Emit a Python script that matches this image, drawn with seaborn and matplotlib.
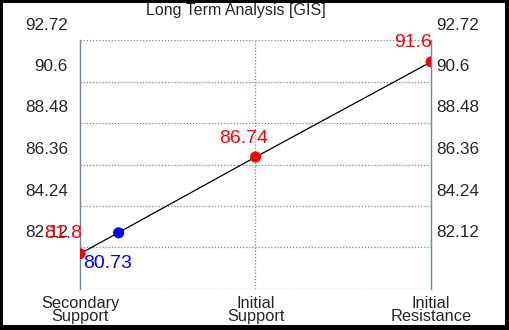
import numpy as np
import pandas as pd
import seaborn as sns
import matplotlib.pyplot as plt
import matplotlib.transforms as mtransforms
from matplotlib.patches import Rectangle

# levels
categories = ["Secondary\nSupport", "Initial\nSupport", "Initial\nResistance"]
level_values = [81.8, 86.74, 91.6]
level_labels = ["81.8", "86.74", "91.6"]

# current price marker (sits on the line)
price_x = 0.22
price_y = 82.87
price_label = "80.73"

y_ticks = [80.0, 82.12, 84.24, 86.36, 88.48, 90.6, 92.72]
y_tick_labels = ["", "82.12", "84.24", "86.36", "88.48", "90.6", "92.72"]

sns.set_style("white")
plt.rcParams['font.family'] = ['Liberation Sans', 'DejaVu Sans']

fig = plt.figure(figsize=(5.1, 3.3), dpi=100, facecolor="black")
fig.patches.append(Rectangle((3 / 510, 5 / 330), 502 / 510, 322 / 330,
                             transform=fig.transFigure, facecolor="white",
                             edgecolor="none", zorder=-10))
ax = fig.add_axes([80 / 510, 1 - 289 / 330, 351 / 510, 249 / 330])
ax.set_facecolor("white")

df = pd.DataFrame({"x": np.arange(len(categories)), "y": level_values})
sns.lineplot(data=df, x="x", y="y", color="black", linewidth=0.9, ax=ax, zorder=2)
sns.scatterplot(data=df, x="x", y="y", color="red", s=64, edgecolor="none", ax=ax, zorder=3)
sns.scatterplot(x=[price_x], y=[price_y], color="blue", s=64, edgecolor="none", ax=ax, zorder=3)

ax.set_xlim(0, 2)
ax.set_ylim(y_ticks[0], y_ticks[-1])

# grid
for yv in y_ticks:
    ax.axhline(yv, color="#6f86a8", linestyle=(0, (1, 1.5)), linewidth=0.9, zorder=1)
ax.axvline(1, color="#6f86a8", linestyle=(0, (1, 1.5)), linewidth=0.9, zorder=1)
for side in ["top", "bottom"]:
    ax.spines[side].set_visible(False)
for side in ["left", "right"]:
    ax.spines[side].set_visible(True)
    ax.spines[side].set_color("#6f86a8")
    ax.spines[side].set_linewidth(1.0)

# value labels (offsets in pixels)
label_offsets = [(-17, 20), (-12, 19), (-18, 19)]
for i, (v, t) in enumerate(zip(level_values, level_labels)):
    ax.annotate(t, (i, v), xytext=label_offsets[i], textcoords="offset pixels",
                ha="center", va="center", color="red", fontsize=14, zorder=4)
ax.annotate(price_label, (price_x, price_y), xytext=(-11, -31), textcoords="offset pixels",
            ha="center", va="center", color="blue", fontsize=14, zorder=4)

# x ticks
ax.set_xticks(range(len(categories)))
ax.set_xticklabels(categories, fontsize=11.8, linespacing=0.85)
ax.tick_params(axis="x", length=0, pad=5)

# y tick labels sit above their gridline, on both sides
ax.set_yticks(y_ticks)
ax.set_yticklabels([])
ax.tick_params(axis="y", length=0)
blend = mtransforms.blended_transform_factory(ax.transAxes, ax.transData)
shift = mtransforms.ScaledTranslation(0, 15 / 100, fig.dpi_scale_trans)
for yv, t in zip(y_ticks, y_tick_labels):
    ax.text(-12 / 351, yv, t, transform=blend + shift, ha="right", va="center", fontsize=12.3)
    ax.text(1 + 5 / 351, yv, t, transform=blend + shift, ha="left", va="center", fontsize=12.3)
ax.set_xlabel("")
ax.set_ylabel("")

fig.text(236 / 510, 1 - 10 / 330, "Long Term Analysis [GIS]", ha="center", va="center", fontsize=11.5)

fig.savefig("out.png", dpi=100, facecolor="black")
